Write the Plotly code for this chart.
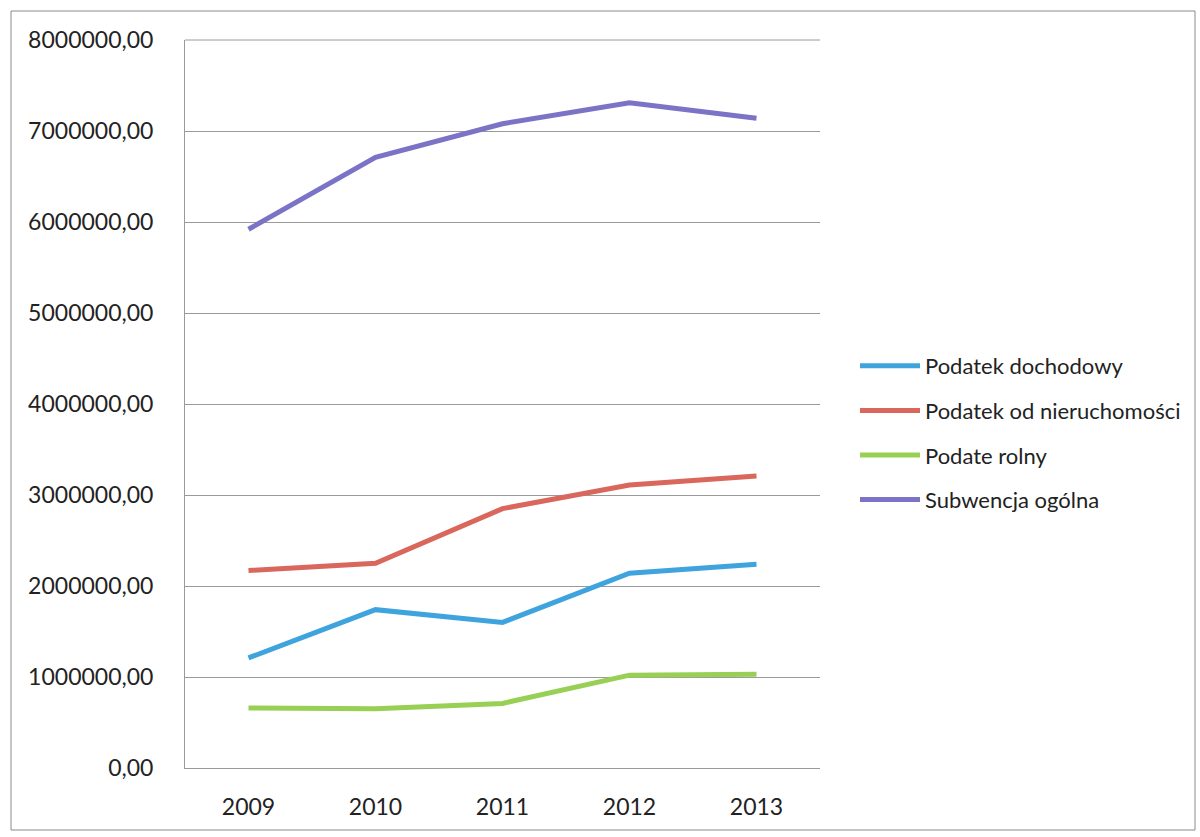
import plotly.graph_objects as go

years = ["2009", "2010", "2011", "2012", "2013"]
dochodowy = [1210000, 1740000, 1600000, 2140000, 2240000]
nieruchomosci = [2170000, 2250000, 2850000, 3110000, 3210000]
rolny = [660000, 650000, 710000, 1020000, 1030000]
subwencja = [5920000, 6710000, 7080000, 7310000, 7140000]

names = ["Podatek dochodowy", "Podatek od nieruchomości", "Podate rolny", "Subwencja ogólna"]
colors = ["#3FA4DE", "#D9675C", "#98CF55", "#7B73C6"]
series = [dochodowy, nieruchomosci, rolny, subwencja]

tick_vals = [0, 1000000, 2000000, 3000000, 4000000, 5000000, 6000000, 7000000, 8000000]
tick_text = ["0,00", "1000000,00", "2000000,00", "3000000,00", "4000000,00",
             "5000000,00", "6000000,00", "7000000,00", "8000000,00"]

fig = go.Figure()
for i, (n, c, s) in enumerate(zip(names, colors, series)):
    fig.add_trace(go.Scatter(x=years, y=s, name=n, mode="lines",
                             line=dict(color=c, width=5), legendgroup=f"g{i}"))

W, H = 1200, 837
L, R, T, B = 185, 820, 40, 768
pw, ph = R - L, B - T

fig.update_layout(
    width=W, height=H,
    margin=dict(l=L, r=W - R, t=T, b=H - B),
    paper_bgcolor="white", plot_bgcolor="white",
    font=dict(family="Lato, 'Open Sans', sans-serif", color="#222222"),
    showlegend=True,
    legend=dict(x=(855 - L) / pw, y=1 - (345 - T) / ph, xanchor="left", yanchor="top",
                font=dict(size=22, color="#222222"), tracegroupgap=13, itemwidth=60,
                bgcolor="rgba(0,0,0,0)"),
    xaxis=dict(type="category", range=[-0.5, 4.5], showgrid=False, showline=True,
               linecolor="#9a9a9a", linewidth=1, ticks="", tickfont=dict(size=23),
               ticklabelstandoff=18),
    yaxis=dict(range=[0, 8000000], tickvals=tick_vals, ticktext=tick_text,
               showgrid=True, gridcolor="#9a9a9a", gridwidth=1, showline=True,
               linecolor="#9a9a9a", linewidth=1, zeroline=False, ticks="",
               tickfont=dict(size=23), ticklabelstandoff=26),
    shapes=[dict(type="line", xref="paper", yref="paper", x0=0, x1=1, y0=1, y1=1,
                 line=dict(color="#9a9a9a", width=1)),
            dict(type="rect", xref="paper", yref="paper",
                 x0=(11 - L) / pw, x1=(1195 - L) / pw,
                 y0=1 - (830 - T) / ph, y1=1 - (11 - T) / ph,
                 line=dict(color="#8a8a8a", width=1))],
)

fig.write_html("out.html", config={"displayModeBar": False},
               post_script="document.body.style.margin='0';document.body.style.overflow='hidden';")
